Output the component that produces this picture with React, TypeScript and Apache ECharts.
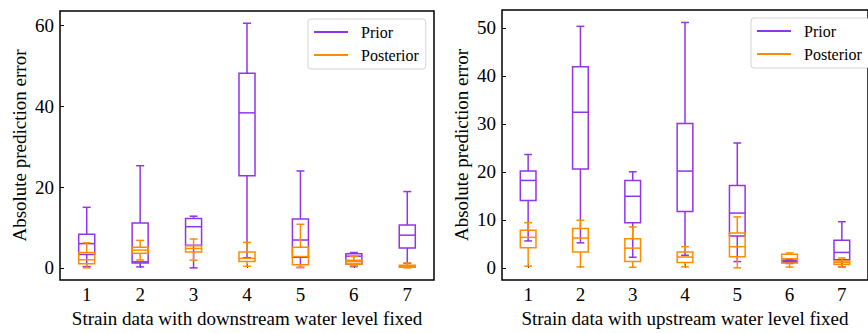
import React, { useEffect, useRef } from "react";
import * as echarts from "echarts";

const categories = ["1", "2", "3", "4", "5", "6", "7"];

// [lower whisker, Q1, median, Q3, upper whisker]
const downPrior = [
  [0.3, 3.3, 6.0, 8.3, 15.0],
  [0.25, 1.2, 1.5, 11.1, 25.3],
  [0.0, 5.6, 10.2, 12.2, 12.8],
  [2.5, 22.8, 38.4, 48.2, 60.6],
  [0.1, 2.6, 6.9, 12.1, 24.0],
  [0.3, 0.9, 2.9, 3.5, 3.8],
  [1.1, 4.9, 8.1, 10.65, 18.9],
];
const downPosterior = [
  [0.0, 1.0, 2.0, 3.8, 6.2],
  [1.95, 3.6, 4.4, 5.1, 6.8],
  [1.9, 3.9, 4.8, 5.5, 7.15],
  [0.4, 1.55, 2.35, 3.9, 6.3],
  [0.1, 0.8, 2.8, 5.1, 10.8],
  [0.5, 0.9, 1.55, 1.9, 2.8],
  [0.0, 0.15, 0.4, 0.65, 1.2],
];
const upPrior = [
  [5.6, 14.0, 18.2, 20.15, 23.6],
  [5.2, 20.6, 32.4, 41.9, 50.3],
  [2.2, 9.4, 14.9, 18.2, 20.0],
  [2.6, 11.75, 20.15, 30.05, 51.1],
  [1.3, 6.6, 11.4, 17.15, 26.0],
  [0.9, 1.1, 1.35, 1.6, 1.8],
  [0.2, 1.7, 3.2, 5.75, 9.6],
];
const upPosterior = [
  [0.35, 4.2, 6.35, 7.8, 9.4],
  [0.2, 3.3, 6.2, 8.2, 9.9],
  [0.1, 1.3, 4.1, 6.05, 8.5],
  [0.2, 1.1, 2.25, 3.3, 4.4],
  [0.0, 2.3, 4.4, 7.25, 10.6],
  [0.15, 1.0, 1.9, 2.85, 3.1],
  [0.15, 0.7, 1.1, 1.4, 2.05],
];

const downTicks = [0, 20, 40, 60];
const upTicks = [0, 10, 20, 30, 40, 50];

const PURPLE = "#9035EA";
const ORANGE = "#FF8C00";
const FONT = "'Liberation Serif', 'Times New Roman', Times, serif";

const makeRenderItem = (color: string) => (params: any, api: any) => {
  const x = api.value(0);
  const low = api.coord([x, api.value(1)]);
  const q1 = api.coord([x, api.value(2)]);
  const med = api.coord([x, api.value(3)]);
  const q3 = api.coord([x, api.value(4)]);
  const high = api.coord([x, api.value(5)]);
  const bw = api.size([1, 0])[0] * 0.3;
  const cw = bw * 0.5;
  const cx = med[0];
  const style = { stroke: color, fill: "none", lineWidth: 1.5 };
  return {
    type: "group",
    children: [
      { type: "rect", shape: { x: cx - bw / 2, y: q3[1], width: bw, height: q1[1] - q3[1] }, style },
      { type: "line", shape: { x1: cx - bw / 2, y1: med[1], x2: cx + bw / 2, y2: med[1] }, style },
      { type: "line", shape: { x1: cx, y1: q3[1], x2: cx, y2: high[1] }, style },
      { type: "line", shape: { x1: cx, y1: q1[1], x2: cx, y2: low[1] }, style },
      { type: "line", shape: { x1: cx - cw / 2, y1: high[1], x2: cx + cw / 2, y2: high[1] }, style },
      { type: "line", shape: { x1: cx - cw / 2, y1: low[1], x2: cx + cw / 2, y2: low[1] }, style },
    ],
  };
};

const toData = (arr: number[][]) => arr.map((d, i) => [i, ...d]);

export default function App() {
  const ref = useRef<HTMLDivElement>(null);
  useEffect(() => {
    if (!ref.current) return;
    const chart = echarts.init(ref.current, undefined, { renderer: "svg" });
    const xAxisBase = (name: string, gridIndex: number) => ({
      type: "category",
      gridIndex,
      data: categories,
      boundaryGap: true,
      axisLine: { show: false },
      axisTick: { show: true, inside: true, alignWithLabel: true, length: 4, lineStyle: { color: "#000", width: 1 } },
      axisLabel: { color: "#000", fontSize: 19, fontFamily: FONT, margin: 5 },
      name,
      nameLocation: "middle",
      nameGap: 27,
      nameTextStyle: { color: "#000", fontSize: 19, fontFamily: FONT },
      splitLine: { show: false },
    });
    const yAxisBase = (gridIndex: number, min: number, max: number, ticks: number[]) => ({
      type: "value",
      gridIndex,
      min,
      max,
      axisLine: { show: false },
      axisTick: { show: true, inside: true, length: 4, customValues: ticks, lineStyle: { color: "#000", width: 1 } },
      axisLabel: { color: "#000", fontSize: 19, fontFamily: FONT, margin: 6, customValues: ticks },
      splitLine: { show: false },
      name: "Absolute prediction error",
      nameLocation: "middle",
      nameGap: 31,
      nameTextStyle: { color: "#000", fontSize: 19, fontFamily: FONT },
    });
    const legendBase = (left: number, top: number) => ({
      data: ["Prior", "Posterior"],
      orient: "vertical",
      left,
      top,
      icon: "rect",
      itemWidth: 34,
      itemHeight: 2,
      itemGap: 7,
      padding: [5, 7, 6, 6],
      backgroundColor: "#fff",
      borderColor: "#d4d4d4",
      borderWidth: 1,
      borderRadius: 3,
      textStyle: { color: "#000", fontSize: 16, fontFamily: FONT, padding: [0, 0, 0, 8] },
    });
    const series = (name: string, data: number[][], color: string, idx: number) => ({
      type: "custom",
      name,
      xAxisIndex: idx,
      yAxisIndex: idx,
      data: toData(data),
      encode: { x: 0, y: [1, 2, 3, 4, 5] },
      itemStyle: { color },
      renderItem: makeRenderItem(color),
    });
    chart.setOption({
      animation: false,
      textStyle: { fontFamily: FONT },
      grid: [
        { left: 60, top: 11, width: 374, height: 273, show: true, borderColor: "#000", borderWidth: 1.5, backgroundColor: "transparent" },
        { left: 502, top: 10, width: 375, height: 274, show: true, borderColor: "#000", borderWidth: 1.5, backgroundColor: "transparent" },
      ],
      xAxis: [
        xAxisBase("Strain data with downstream water level fixed", 0),
        xAxisBase("Strain data with upstream water level fixed", 1),
      ],
      yAxis: [yAxisBase(0, -3.03, 63.63, downTicks), yAxisBase(1, -2.56, 53.7, upTicks)],
      legend: [legendBase(308, 19), legendBase(751, 18)],
      series: [
        series("Prior", downPrior, PURPLE, 0),
        series("Posterior", downPosterior, ORANGE, 0),
        series("Prior", upPrior, PURPLE, 1),
        series("Posterior", upPosterior, ORANGE, 1),
      ],
    });
    return () => chart.dispose();
  }, []);
  return <div ref={ref} style={{ position: "absolute", left: 0, top: 0, width: 868, height: 333 }} />;
}
